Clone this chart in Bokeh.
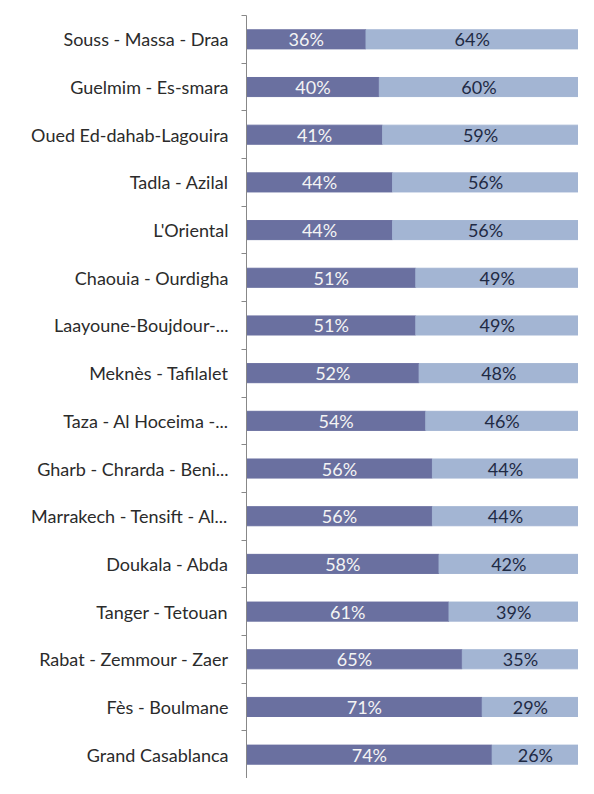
from bokeh.plotting import figure
from bokeh.models import ColumnDataSource, Range1d, FixedTicker
from bokeh.core.properties import value
from bokeh.embed import file_html
from bokeh.resources import INLINE

regions = [
    "Souss - Massa - Draa",
    "Guelmim - Es-smara",
    "Oued Ed-dahab-Lagouira",
    "Tadla - Azilal",
    "L'Oriental",
    "Chaouia - Ourdigha",
    "Laayoune-Boujdour-...",
    "Meknès - Tafilalet",
    "Taza - Al Hoceima -...",
    "Gharb - Chrarda - Beni...",
    "Marrakech - Tensift - Al...",
    "Doukala - Abda",
    "Tanger - Tetouan",
    "Rabat - Zemmour - Zaer",
    "Fès - Boulmane",
    "Grand Casablanca",
]
share_a = [36, 40, 41, 44, 44, 51, 51, 52, 54, 56, 56, 58, 61, 65, 71, 74]
share_b = [64, 60, 59, 56, 56, 49, 49, 48, 46, 44, 44, 42, 39, 35, 29, 26]

DARK = "#6a70a0"
LIGHT = "#a3b5d3"

n = len(regions)
idx = list(range(n))
src = ColumnDataSource(dict(
    y=idx,
    a_end=share_a,
    b_end=[a + b for a, b in zip(share_a, share_b)],
    a_mid=[a / 2 for a in share_a],
    b_mid=[a + b / 2 for a, b in zip(share_a, share_b)],
    a_lbl=[f"{a}%" for a in share_a],
    b_lbl=[f"{b}%" for b in share_b],
))

p = figure(width=578, height=778, output_backend="svg", toolbar_location=None,
           x_range=Range1d(0, 100), y_range=Range1d(n - 0.5, -0.5),
           x_axis_location=None, min_border_left=246, min_border_right=0,
           min_border_top=15, min_border_bottom=0)
p.outline_line_color = None
p.xgrid.visible = False
p.ygrid.visible = False

p.hbar(y="y", left=0, right="a_end", height=0.4, color=DARK, source=src)
p.hbar(y="y", left="a_end", right="b_end", height=0.4, color=LIGHT, source=src)

p.text(x="a_mid", y="y", text="a_lbl", source=src, text_align="center",
       text_baseline="middle", text_color="#f4f4f4", text_font=value("Lato"),
       text_font_size="18px")
p.text(x="b_mid", y="y", text="b_lbl", source=src, text_align="center",
       text_baseline="middle", text_color="#1f2a44", text_font=value("Lato"),
       text_font_size="18px")

yax = p.yaxis[0]
yax.ticker = FixedTicker(ticks=idx, minor_ticks=[i - 0.5 for i in range(n + 1)])
yax.major_label_overrides = {i: r for i, r in enumerate(regions)}
yax.major_tick_line_color = None
yax.minor_tick_in = 0
yax.minor_tick_out = 5
yax.minor_tick_line_color = "#888888"
yax.axis_line_color = "#888888"
yax.major_label_standoff = 12
yax.major_label_text_font = "Lato"
yax.major_label_text_font_size = "18px"
yax.major_label_text_color = "#2b2b2b"

open("out.html", "w").write(file_html(p, INLINE))
